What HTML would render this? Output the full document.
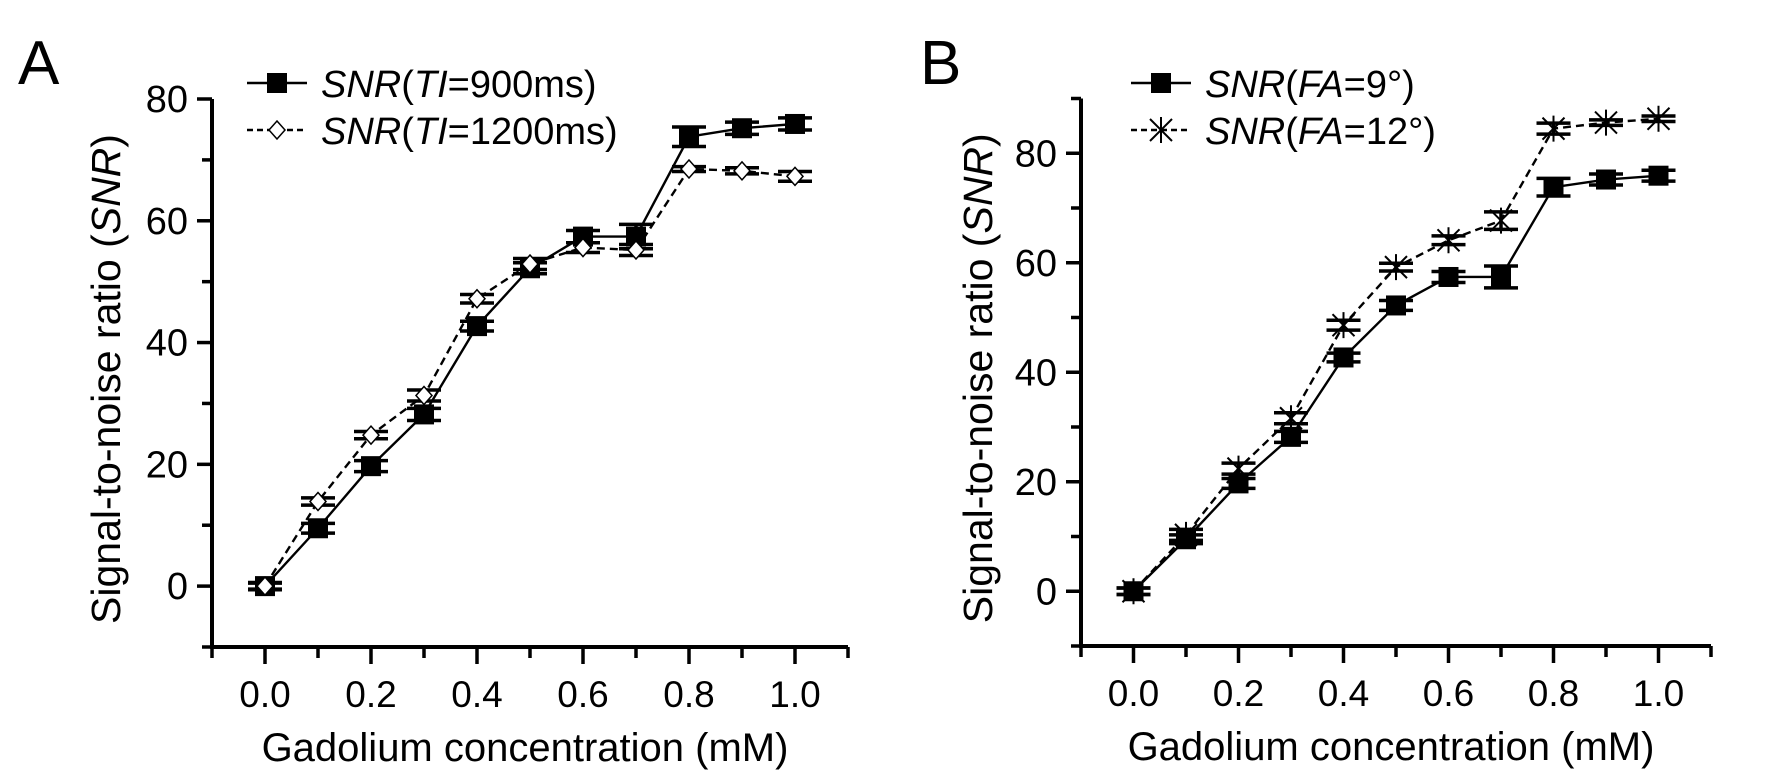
<!DOCTYPE html>
<html><head><meta charset="utf-8"><style>
body{margin:0;background:#fff;}
svg{display:block;font-family:"Liberation Sans",Arial,sans-serif;}
</style></head><body>
<svg id="chart" width="1772" height="782" viewBox="0 0 1772 782" xmlns="http://www.w3.org/2000/svg">
<text x="18" y="84" font-size="62">A</text>
<text x="920" y="84" font-size="62">B</text>
<g id="pa"></g>
<g id="pb"></g>
</svg>
<script>
const xVals=[0,0.1,0.2,0.3,0.4,0.5,0.6,0.7,0.8,0.9,1.0];
const snrTI900=[0,9.5,19.7,28.2,42.7,52.2,57.4,57.4,73.8,75.2,75.9];
const errTI900=[0.6,0.8,0.9,1.0,0.8,0.9,1.0,2.0,1.6,1.0,1.0];
const snrTI1200=[0,13.9,24.8,31.3,47.2,52.9,55.6,55.2,68.5,68.2,67.3];
const errTI1200=[0.5,0.6,0.6,0.9,0.7,0.9,0.8,0.9,0.4,0.5,0.8];
const snrFA9=[0,9.5,19.7,28.2,42.7,52.2,57.4,57.4,73.8,75.2,75.9];
const errFA9=[0.6,0.8,0.9,1.0,0.8,0.9,1.0,2.0,1.6,1.0,1.0];
const snrFA12=[0,10.3,22.4,31.6,48.6,59.2,64.1,67.7,84.5,85.6,86.3];
const errFA12=[0.6,1.0,1.0,1.0,0.9,0.7,0.8,1.6,1.0,0.5,0.5];
const xTicksA=["0.0","0.2","0.4","0.6","0.8","1.0"];
const yTicksA=[0,20,40,60,80];
const yTicksB=[0,20,40,60,80];
const NS="http://www.w3.org/2000/svg";
function mk(parent,tag,attrs){const e=document.createElementNS(NS,tag);for(const k in attrs)e.setAttribute(k,attrs[k]);parent.appendChild(e);return e;}

function panel(g,cfg){
  const X=v=>cfg.x0+(v-(-0.1))/(1.2)*(cfg.x1-cfg.x0);
  const Y=v=>cfg.y0-(v-cfg.ymin)/(cfg.ymax-cfg.ymin)*(cfg.y0-cfg.y1);
  const ax=mk(g,'path',{d:`M${cfg.x0},${cfg.y1}V${cfg.y0}H${cfg.x1}`,stroke:'#000','stroke-width':4,fill:'none'});
  
  
  for(let v=cfg.ymin;v<=cfg.ymax;v+=10){
    const maj=v%20===0;
    const t=mk(g,'line',{x1:cfg.x0,x2:cfg.x0-(maj?15:10),y1:Y(v),y2:Y(v),stroke:'#000','stroke-width':3.5});
    
    
  }
  cfg.yTicks.forEach(v=>{
    const t=mk(g,'text',{x:cfg.x0-24,y:Y(v)+13,'font-size':38,'text-anchor':'end'});
    t.textContent=v;
    
    
  });
  for(let i=-1;i<=11;i++){
    const v=i/10, maj=i%2===0;
    const t=mk(g,'line',{x1:X(v),x2:X(v),y1:cfg.y0,y2:cfg.y0+(maj?17:11),stroke:'#000','stroke-width':3.5});
    
    
  }
  xTicksA.forEach(s=>{
    const t=mk(g,'text',{x:X(parseFloat(s)),y:cfg.y0+60,'font-size':37,'text-anchor':'middle'});
    t.textContent=s;
    
    
  });
  const xt=mk(g,'text',{x:(cfg.x0+cfg.x1)/2-5,y:cfg.y0+114,'font-size':40,'text-anchor':'middle'});
  xt.textContent='Gadolium concentration (mM)';
  
  
  const yc=(cfg.y0+cfg.y1)/2+6;
  const yt=mk(g,'text',{x:cfg.ytx,y:yc,'font-size':41,'text-anchor':'middle',transform:`rotate(-90 ${cfg.ytx} ${yc})`});
  yt.innerHTML='Signal-to-noise ratio (<tspan font-style="italic">SNR</tspan>)';
  
  
  cfg.series.forEach((s,si)=>{
    const pts=xVals.map((x,i)=>`${X(x)},${Y(s.vals[i])}`).join(' ');
    const l=mk(g,'polyline',{points:pts,fill:'none',stroke:'#000','stroke-width':2.4,'stroke-dasharray':s.dash?'8 5':'none'});
    
    
    xVals.forEach((x,i)=>{
      const cx=X(x),cy=Y(s.vals[i]),e=s.err[i]*(cfg.y0-cfg.y1)/(cfg.ymax-cfg.ymin);
      const eb=mk(g,'path',{d:`M${cx},${cy-e}V${cy+e}M${cx-17},${cy-e}H${cx+17}M${cx-17},${cy+e}H${cx+17}`,stroke:'#000','stroke-width':3.5,fill:'none'});
      
      
      drawMarker(g,s.marker,cx,cy,s.name);
    });
    const ly=cfg.legY+si*47, lx=cfg.legX;
    const ll=mk(g,'line',{x1:lx,x2:lx+60,y1:ly,y2:ly,stroke:'#000','stroke-width':2.4,'stroke-dasharray':s.dash?'6 4':'none'});
    
    
    drawMarker(g,s.marker,lx+30,ly,'legend');
    const lt=mk(g,'text',{x:lx+74,y:ly+14,'font-size':38});
    lt.innerHTML=s.label;
    
    
  });
}
function drawMarker(g,m,cx,cy,name){
  let e;
  if(m==='square'){e=mk(g,'rect',{x:cx-10,y:cy-10,width:20,height:20,fill:'#000'});}
  else if(m==='diamond'){e=mk(g,'path',{d:`M${cx},${cy-9}L${cx+8},${cy}L${cx},${cy+9}L${cx-8},${cy}Z`,fill:'#fff',stroke:'#000','stroke-width':1.5});}
  else {e=mk(g,'path',{d:`M${cx-11},${cy-11}L${cx+11},${cy+11}M${cx+11},${cy-11}L${cx-11},${cy+11}M${cx},${cy-13}V${cy+13}`,stroke:'#000','stroke-width':2});}
  
  
}
panel(document.getElementById('pa'),{x0:212,x1:848,y0:647,y1:99,ymin:-10,ymax:80,yTicks:yTicksA,ytx:120,legX:247,legY:83,
 series:[{name:'ti900',vals:snrTI900,err:errTI900,marker:'square',dash:false,label:'<tspan font-style="italic">SNR</tspan>(<tspan font-style="italic">TI</tspan>=900ms)'},
         {name:'ti1200',vals:snrTI1200,err:errTI1200,marker:'diamond',dash:true,label:'<tspan font-style="italic">SNR</tspan>(<tspan font-style="italic">TI</tspan>=1200ms)'}]});
panel(document.getElementById('pb'),{x0:1081,x1:1711,y0:646,y1:98.5,ymin:-10,ymax:90,yTicks:yTicksB,ytx:992,legX:1131,legY:83,
 series:[{name:'fa9',vals:snrFA9,err:errFA9,marker:'square',dash:false,label:'<tspan font-style="italic">SNR</tspan>(<tspan font-style="italic">FA</tspan>=9°)'},
         {name:'fa12',vals:snrFA12,err:errFA12,marker:'star',dash:true,label:'<tspan font-style="italic">SNR</tspan>(<tspan font-style="italic">FA</tspan>=12°)'}]});
</script>
</body></html>
